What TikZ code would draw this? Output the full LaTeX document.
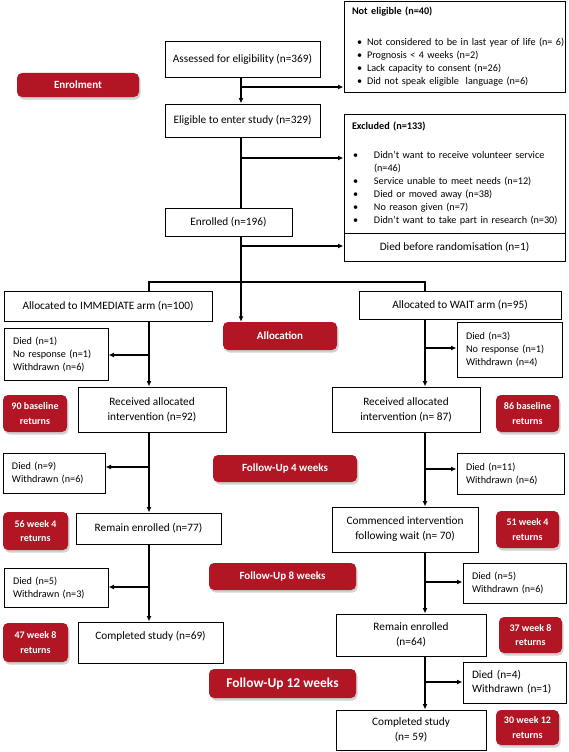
\documentclass[tikz,border=0pt]{standalone}
\usepackage{fontspec}
\setmainfont{Carlito}
\usetikzlibrary{arrows.meta,shadows}
\definecolor{redc}{RGB}{178,22,36}
\newcommand\Bx[7]{\node[#6, minimum width={(#4-#2)*1pt}, minimum height={(#5-#3)*1pt}] (#1) at ({(#2+#4)/2},{(#3+#5)/2}) {#7};}
\newcommand\blA[1]{\mbox{\hspace*{5pt}\makebox[10pt][l]{\textbullet}#1}}
\newcommand\blB[1]{\mbox{\hspace*{1pt}\makebox[21pt][l]{\textbullet}#1}}
\begin{document}
\begin{tikzpicture}[x=1pt,y=-1pt,
  box/.style={draw=black, line width=1pt, fill=white, align=center, inner sep=0pt, font=\fontsize{11.3}{15}\selectfont},
  sbox/.style={draw=black, line width=1pt, fill=white, align=left, inner ysep=0pt, inner xsep=9pt, font=\fontsize{10.2}{13}\selectfont},
  redbox/.style={fill=redc, rounded corners=5pt, text=white, align=center, inner sep=0pt, font=\bfseries\fontsize{11}{14}\selectfont, drop shadow={shadow xshift=1.5pt, shadow yshift=-2.5pt, fill=black!30, opacity=0.6}},
  smallred/.style={redbox, font=\bfseries\fontsize{10}{14.5}\selectfont},
  arr/.style={line width=1.3pt, -{Latex[length=5.5pt,width=5pt]}},
  ln/.style={line width=1.3pt}]
\useasboundingbox (0,0) rectangle (568,752);

% enrolment column
\Bx{assess}{165}{42}{320}{77}{box}{Assessed for eligibility (n=369)}
\Bx{elig}{165}{104}{320}{137}{box}{Eligible to enter study (n=329)}
\Bx{enrolled}{165}{208}{292}{236}{box}{Enrolled (n=196)}
\Bx{notelig}{344}{2}{565}{92}{sbox, inner xsep=8pt, text width=205pt}{\vspace*{5pt}\textbf{Not eligible (n=40)}\\[13pt]
\blA{Not considered to be in last year of life (n= 6)}\\
\blA{Prognosis < 4 weeks (n=2)}\\
\blA{Lack capacity to consent (n=26)}\\
\blA{Did not speak eligible\ \ language (n=6)}}
\Bx{excl}{344}{114}{565}{233}{sbox, inner xsep=8pt, text width=205pt}{\vspace*{3pt}\textbf{Excluded (n=133)}\\[13pt]
\blB{Didn't want to receive volunteer service}\\
\hspace*{22pt}(n=46)\\
\blB{Service unable to meet needs (n=12)}\\
\blB{Died or moved away (n=38)}\\
\blB{No reason given (n=7)}\\
\blB{Didn't want to take part in research (n=30)}}
\Bx{diedb}{344}{233}{565}{261}{box}{Died before randomisation (n=1)}

% arms
\Bx{imm}{4}{291}{212}{321}{box}{Allocated to IMMEDIATE arm (n=100)}
\Bx{wait}{359}{291}{561}{319}{box}{Allocated to WAIT arm (n=95)}
\Bx{lDa}{4}{328}{108}{380}{sbox, text width=86pt}{Died (n=1)\\No response (n=1)\\Withdrawn (n=6)}
\Bx{rDa}{457}{322}{562}{377}{sbox, text width=87pt}{Died (n=3)\\No response (n=1)\\Withdrawn (n=4)}
\Bx{recL}{78}{387}{226}{432}{box}{Received allocated\\intervention (n=92)}
\Bx{recR}{332}{387}{480}{432}{box}{Received allocated\\intervention (n= 87)}
\Bx{lDb}{3}{453}{105}{493}{sbox, text width=84pt}{Died (n=9)\\Withdrawn (n=6)}
\Bx{rDb}{457}{453}{564}{494}{sbox, text width=89pt}{Died (n=11)\\Withdrawn (n=6)}
\Bx{remL}{76}{513}{221}{544}{box}{Remain enrolled (n=77)}
\Bx{comm}{332}{507}{478}{552}{box}{Commenced intervention\\following wait (n= 70)}
\Bx{lDc}{4}{568}{108}{607}{sbox, text width=86pt}{Died (n=5)\\Withdrawn (n=3)}
\Bx{rDc}{463}{563}{566}{603}{sbox, text width=85pt}{Died (n=5)\\Withdrawn (n=6)}
\Bx{compL}{78}{622}{223}{663}{box}{Completed study (n=69)\\\mbox{}}
\Bx{remR}{336}{614}{486}{656}{box}{Remain enrolled\\(n=64)}
\Bx{rDd}{463}{662}{566}{703}{sbox, text width=85pt, font=\fontsize{11.3}{14}\selectfont}{Died (n=4)\\Withdrawn (n=1)}
\Bx{compR}{336}{710}{486}{750}{box}{Completed study\\(n= 59)}

% red labels
\Bx{enrolment}{17}{73}{139}{97}{redbox}{Enrolment}
\Bx{alloc}{223}{322}{337}{350}{redbox}{Allocation}
\Bx{fu4}{213}{455}{357}{482}{redbox}{Follow-Up 4 weeks}
\Bx{fu8}{209}{563}{356}{590}{redbox}{Follow-Up 8 weeks}
\Bx{fu12}{209}{669}{356}{698}{redbox, font=\bfseries\fontsize{13.5}{16}\selectfont}{Follow-Up 12 weeks}
\Bx{b90}{3}{395}{67}{432}{smallred}{90 baseline\\returns}
\Bx{b86}{496}{395}{559}{432}{smallred}{86 baseline\\returns}
\Bx{b56}{3}{512}{68}{550}{smallred}{56 week 4\\returns}
\Bx{b51}{496}{511}{559}{548}{smallred}{51 week 4\\returns}
\Bx{b47}{3}{623}{68}{662}{smallred}{47 week 8\\returns}
\Bx{b37}{499}{617}{562}{653}{smallred}{37 week 8\\returns}
\Bx{b30}{496}{710}{559}{745}{smallred}{30 week 12\\returns}

% connectors
\coordinate (cC) at (241,0);
\coordinate (cL) at (149,0);
\coordinate (cR) at (425,0);
\draw[arr] (assess.south -| cC) -- (elig.north -| cC);
\coordinate (j1) at (241,87);
\draw[arr] (j1) -- (notelig.west |- j1);
\draw[ln] (elig.south -| cC) -- (enrolled.north -| cC);
\coordinate (j2) at (241,158);
\draw[arr] (j2) -- (excl.west |- j2);
\draw[arr] (enrolled.south -| cC) -- (alloc.north -| cC);
\coordinate (j3) at (241,246);
\draw[arr] (j3) -- (diedb.west |- j3);
\coordinate (sL) at (149,282);
\coordinate (sR) at (425,282);
\draw[ln] (imm.north -| sL) -- (sL) -- (sR) -- (wait.north -| sR);
\draw[arr] (imm.south -| cL) -- (recL.north -| cL);
\coordinate (j4) at (149,355);
\draw[arr] (j4) -- (lDa.east |- j4);
\draw[arr] (wait.south -| cR) -- (recR.north -| cR);
\coordinate (j5) at (425,348);
\draw[arr] (j5) -- (rDa.west |- j5);
\draw[arr] (recL.south -| cL) -- (remL.north -| cL);
\coordinate (j6) at (149,467);
\draw[arr] (j6) -- (lDb.east |- j6);
\draw[arr] (recR.south -| cR) -- (comm.north -| cR);
\coordinate (j7) at (425,469);
\draw[arr] (j7) -- (rDb.west |- j7);
\draw[arr] (remL.south -| cL) -- (compL.north -| cL);
\coordinate (j8) at (149,587);
\draw[arr] (j8) -- (lDc.east |- j8);
\draw[arr] (comm.south -| cR) -- (remR.north -| cR);
\coordinate (j9) at (425,582);
\draw[arr] (j9) -- (rDc.west |- j9);
\draw[arr] (remR.south -| cR) -- (compR.north -| cR);
\coordinate (j10) at (425,682);
\draw[arr] (j10) -- (rDd.west |- j10);
\end{tikzpicture}
\end{document}
